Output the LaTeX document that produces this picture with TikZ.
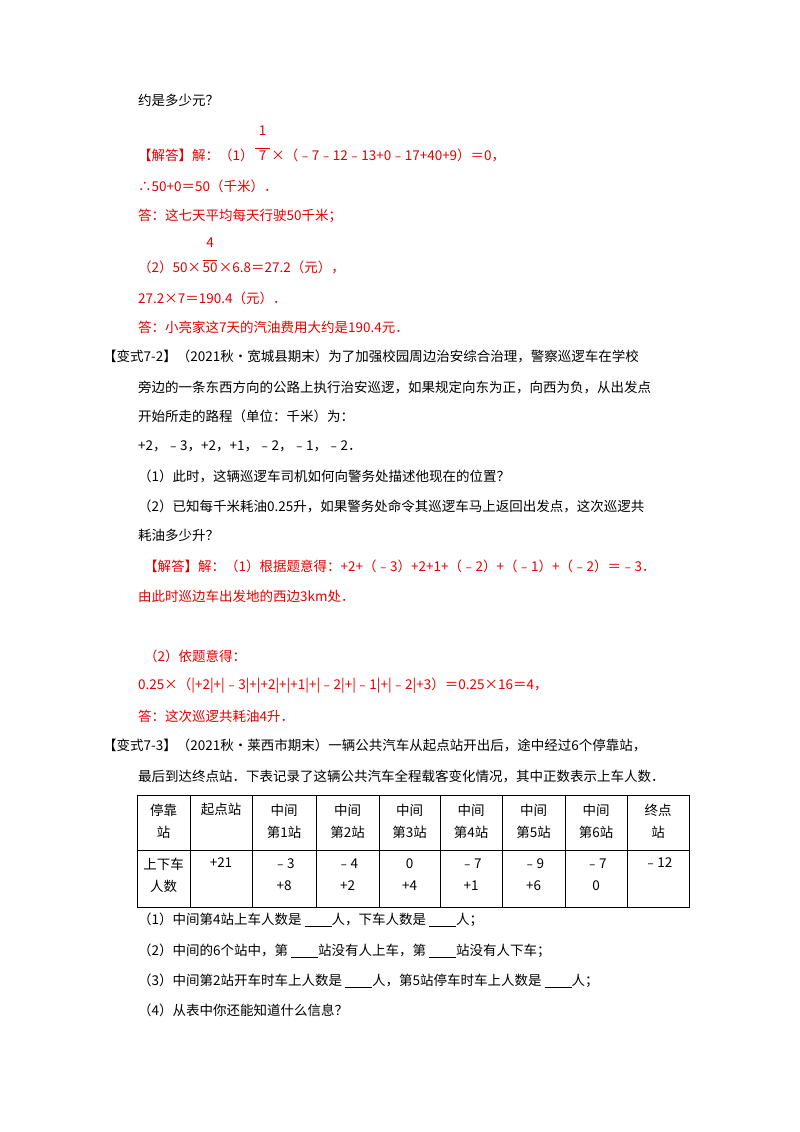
\documentclass[tikz,border=0pt]{standalone}
\usepackage{fontspec}
\setmainfont{Noto Sans CJK SC}
\begin{document}
\begin{tikzpicture}[x=1pt,y=-1pt,
  t/.style={anchor=west,inner sep=0pt,font=\fontsize{13.5}{16}\selectfont},
  r/.style={t,text=red!90!black},
  c/.style={inner sep=0pt,font=\fontsize{13.5}{16}\selectfont,align=center},
  fr/.style={inner sep=1pt,anchor=west,text=red!90!black,font=\fontsize{13.5}{16}\selectfont,align=center}]
\useasboundingbox (0,0) rectangle (800,1132);
\newcommand{\blank}{\underline{\hspace{2em}}}
\newcommand{\myfrac}[2]{\begin{tabular}{@{}c@{}}#1\\[-3pt]\rule{1.1em}{0.5pt}\\[-4pt]#2\end{tabular}}
\node[t] (l1) at (138,100) {约是多少元？};
\node[r] (l2) at (138,155) {【解答】解：（1）};
\node[fr] (f1) at ([yshift=10]l2.east) {\myfrac{1}{7}};
\node[r] (l2b) at (f1.east |- l2) {×（﹣7﹣12﹣13+0﹣17+40+9）＝0，};
\node[r] (l3) at (138,186) {∴50+0＝50（千米）．};
\node[r] (l4) at (138,216) {答：这七天平均每天行驶50千米；};
\node[r] (l5) at (138,267) {（2）50×};
\node[fr] (f2) at ([yshift=10]l5.east) {\myfrac{4}{50}};
\node[r] (l5b) at (f2.east |- l5) {×6.8＝27.2（元），};
\node[r] (l6) at (138,298) {27.2×7＝190.4（元）．};
\node[r] (l7) at (138,327) {答：小亮家这7天的汽油费用大约是190.4元．};
\node[t] (l8) at (103,356) {【变式7-2】（2021秋•宽城县期末）为了加强校园周边治安综合治理，警察巡逻车在学校};
\node[t] (l9) at (138,387) {旁边的一条东西方向的公路上执行治安巡逻，如果规定向东为正，向西为负，从出发点};
\node[t] (l10) at (138,416) {开始所走的路程（单位：千米）为：};
\node[t] (l11) at (138,446) {+2，﹣3，+2，+1，﹣2，﹣1，﹣2．};
\node[t] (l12) at (138,476) {（1）此时，这辆巡逻车司机如何向警务处描述他现在的位置？};
\node[t] (l13) at (138,506) {（2）已知每千米耗油0.25升，如果警务处命令其巡逻车马上返回出发点，这次巡逻共};
\node[t] (l14) at (138,535) {耗油多少升？};
\node[r] (l15) at (144,566) {【解答】解：（1）根据题意得：+2+（﹣3）+2+1+（﹣2）+（﹣1）+（﹣2）＝﹣3．};
\node[r] (l16) at (138,596) {由此时巡边车出发地的西边3\textit{km}处．};
\node[r] (l17) at (144,656) {（2）依题意得：};
\node[r] (l18) at (138,686) {0.25×（|+2|+|﹣3|+|+2|+|+1|+|﹣2|+|﹣1|+|﹣2|+3）＝0.25×16＝4，};
\node[r] (l19) at (138,716) {答：这次巡逻共耗油4升．};
\node[t] (l20) at (103,745) {【变式7-3】（2021秋•莱西市期末）一辆公共汽车从起点站开出后，途中经过6个停靠站，};
\node[t] (l21) at (138,776) {最后到达终点站．下表记录了这辆公共汽车全程载客变化情况，其中正数表示上车人数．};
% table
\draw (137,795) rectangle (689,907);
\draw (137,850) -- (689,850);
\foreach \x in {190,252,316,379,440,502,565,627} \draw (\x,795) -- (\x,907);
\node[c] (h0) at (163.5,821) {停靠\\[6pt]站};
\node[c] (h1) at (221,809) {起点站};
\node[c] (h2) at (284,821) {中间\\[6pt]第1站};
\node[c] (h3) at (347.5,821) {中间\\[6pt]第2站};
\node[c] (h4) at (409.5,821) {中间\\[6pt]第3站};
\node[c] (h5) at (471,821) {中间\\[6pt]第4站};
\node[c] (h6) at (533.5,821) {中间\\[6pt]第5站};
\node[c] (h7) at (596,821) {中间\\[6pt]第6站};
\node[c] (h8) at (658,821) {终点\\[6pt]站};
\node[c] (d0) at (163.5,875) {上下车\\[6pt]人数};
\node[c] (d1) at (221,863) {+21};
\node[c] (d2) at (284,875) {﹣3\\[6pt]+8};
\node[c] (d3) at (347.5,875) {﹣4\\[6pt]+2};
\node[c] (d4) at (409.5,875) {0\\[6pt]+4};
\node[c] (d5) at (471,875) {﹣7\\[6pt]+1};
\node[c] (d6) at (533.5,875) {﹣9\\[6pt]+6};
\node[c] (d7) at (596,875) {﹣7\\[6pt]0};
\node[c] (d8) at (658,863) {﹣12};
\node[t] (q1) at (138,920) {（1）中间第4站上车人数是 \blank 人，下车人数是 \blank 人；};
\node[t] (q2) at (138,951) {（2）中间的6个站中，第 \blank 站没有人上车，第 \blank 站没有人下车；};
\node[t] (q3) at (138,981) {（3）中间第2站开车时车上人数是 \blank 人，第5站停车时车上人数是 \blank 人；};
\node[t] (q4) at (138,1010) {（4）从表中你还能知道什么信息？};
\end{tikzpicture}
\end{document}
